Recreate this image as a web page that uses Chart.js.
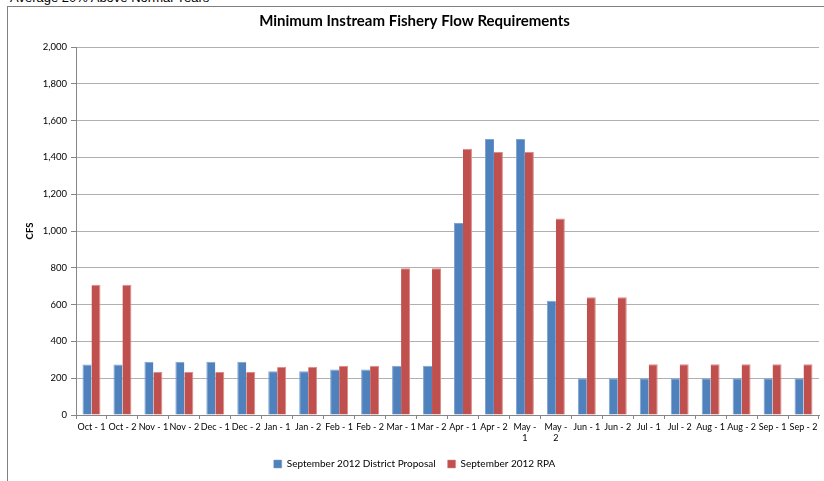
<!DOCTYPE html>
<html>
<head>
<meta charset="utf-8">
<script src="https://cdn.jsdelivr.net/npm/chart.js@4/dist/chart.umd.min.js"></script>
<style>
  html, body { margin: 0; padding: 0; background: #fff; }
  body { width: 824px; height: 481px; position: relative; overflow: hidden; }
  #caption {
    position: absolute; left: 10px; top: -9px;
    font: 13px "Liberation Sans", Arial, sans-serif; color: #000;
    line-height: 14px; white-space: nowrap;
  }
  #frame {
    position: absolute; left: 7px; top: 6px; width: 840px; height: 500px;
    border-left: 1px solid #7f7f7f; border-top: 1px solid #7f7f7f;
  }
  #wrap { position: absolute; left: 0; top: 0; width: 824px; height: 481px; }
</style>
</head>
<body>
<div id="caption">Average 20% Above Normal Years</div>
<div id="frame"></div>
<div id="wrap"><canvas id="chart"></canvas></div>
<script>
// Half-month periods of the water year
const periods = [
  'Oct - 1', 'Oct - 2', 'Nov - 1', 'Nov - 2', 'Dec - 1', 'Dec - 2',
  'Jan - 1', 'Jan - 2', 'Feb - 1', 'Feb - 2', 'Mar - 1', 'Mar - 2',
  'Apr - 1', 'Apr - 2', ['May -', '1'], ['May -', '2'], 'Jun - 1', 'Jun - 2',
  'Jul - 1', 'Jul - 2', 'Aug - 1', 'Aug - 2', 'Sep - 1', 'Sep - 2'
];

// Minimum flow, CFS
const districtProposal = [
  275, 275, 290, 290, 290, 290,
  238, 238, 247, 247, 267, 267,
  1044, 1500, 1500, 621, 200, 200,
  200, 200, 200, 200, 200, 200
];
const rpa = [
  708, 708, 234, 234, 234, 234,
  262, 262, 267, 267, 797, 797,
  1447, 1429, 1429, 1068, 640, 640,
  276, 276, 276, 276, 276, 276
];

const seriesNames = ['September 2012 District Proposal', 'September 2012 RPA'];
const yTicks = [0, 200, 400, 600, 800, 1000, 1200, 1400, 1600, 1800, 2000];

const FONT = 'Lato, "Open Sans", sans-serif';

new Chart(document.getElementById('chart'), {
  type: 'bar',
  data: {
    labels: periods,
    datasets: [
      {
        label: seriesNames[0],
        data: districtProposal,
        backgroundColor: '#4f81bd',
        borderColor: '#7fa3d1',
        borderWidth: { left: 1, right: 0, top: 1, bottom: 0 },
        categoryPercentage: 0.58,
        barPercentage: 1.0
      },
      {
        label: seriesNames[1],
        data: rpa,
        backgroundColor: '#c0504d',
        borderColor: '#dc8b89',
        borderWidth: { left: 0, right: 1, top: 1, bottom: 0 },
        categoryPercentage: 0.58,
        barPercentage: 1.0
      }
    ]
  },
  options: {
    responsive: true,
    maintainAspectRatio: false,
    animation: false,
    layout: { padding: { left: 10, right: 5, top: 0, bottom: 2 } },
    plugins: {
      title: {
        display: true,
        text: 'Minimum Instream Fishery Flow Requirements',
        color: '#000',
        font: { family: FONT, size: 15, weight: 'bold' },
        padding: { top: 12, bottom: 17 }
      },
      legend: {
        position: 'bottom',
        labels: {
          color: '#000',
          font: { family: FONT, size: 10 },
          boxWidth: 8,
          boxHeight: 8,
          padding: 12
        }
      },
      tooltip: { enabled: false }
    },
    scales: {
      x: {
        afterFit: (s) => { s.height = 32; },
        grid: {
          offset: true,
          drawOnChartArea: false,
          drawTicks: true,
          tickLength: 4,
          color: '#868686'
        },
        border: { color: '#868686', width: 1 },
        ticks: {
          color: '#000',
          font: { family: FONT, size: 9 },
          autoSkip: false,
          maxRotation: 0,
          minRotation: 0,
          padding: 3
        }
      },
      y: {
        min: 0,
        max: 2000,
        afterFit: (s) => { s.width = 66; },
        afterBuildTicks: (s) => { s.ticks = yTicks.map(v => ({ value: v })); },
        grid: {
          color: '#b0b0b0',
          tickColor: '#868686',
          tickLength: 5,
          lineWidth: 1
        },
        border: { color: '#868686', width: 1 },
        ticks: {
          color: '#000',
          font: { family: FONT, size: 9.5 },
          padding: 4,
          callback: (v) => v.toLocaleString('en-US')
        },
        title: {
          display: true,
          text: 'CFS',
          color: '#000',
          font: { family: FONT, size: 9.5, weight: 'bold' },
          padding: { top: 14, bottom: 0 }
        }
      }
    }
  }
});
</script>
</body>
</html>
